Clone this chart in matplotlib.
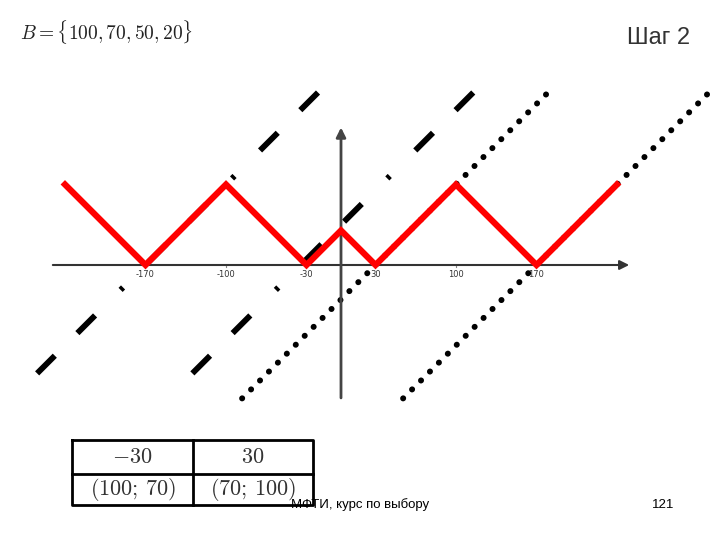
import matplotlib
matplotlib.use("Agg")
import matplotlib.pyplot as plt

plt.rcParams['lines.scale_dashes'] = False
plt.rcParams['mathtext.fontset'] = 'cm'

red_x = [-240, -170, -100, -30, 0, 30, 100, 170, 240]
red_y = [70, 0, 70, 0, 30, 0, 70, 0, 70]
tick_vals = [-170, -100, -30, 30, 100, 170]
tick_labels = ['-170', '-100', '-30', '30', '100', '170']
dashdot_offsets = [170, 35]
dotted_offsets = [-30, -170]
line_ymin, line_ymax = -116, 150
table_cells = [['$-30$', '$30$'], ['$(100;\\,70)$', '$(70;\\,100)$']]

W, H = 720, 540
fig = plt.figure(figsize=(7.2, 5.4), dpi=100)
s = 1.15
ox, oy = 341, 265
ax = fig.add_axes([0, 0, 1, 1])
ax.set_xlim(-ox / s, (W - ox) / s)
ax.set_ylim(-(H - oy) / s, oy / s)
ax.axis('off')

ax.annotate('', xy=(253, 0), xytext=(-253, 0),
            arrowprops=dict(arrowstyle='-|>', color='#333333', lw=1.5, mutation_scale=14))
ax.annotate('', xy=(0, 122), xytext=(0, -118),
            arrowprops=dict(arrowstyle='-|>', color='#444444', lw=2, mutation_scale=14))
for v, lab in zip(tick_vals, tick_labels):
    ax.plot([v, v], [0, -2], color='#888888', lw=0.8)
    ax.text(v, -4, lab, ha='center', va='top', fontsize=6, color='#333333')

for c in dashdot_offsets:
    ax.plot([line_ymax - c, line_ymin - c], [line_ymax, line_ymin], color='black', lw=4.2,
            solid_capstyle='butt', dash_capstyle='butt',
            linestyle=(0, (18, 23, 18, 26, 2.5, 26)))
for c in dotted_offsets:
    ax.plot([line_ymin - c, line_ymax - c], [line_ymin, line_ymax], color='black', lw=4.3,
            dash_capstyle='round', linestyle=(0, (0.1, 9.0)))

ax.plot(red_x, red_y, color='#ff0000', lw=4.5, solid_joinstyle='miter', zorder=5)

fig.text(20 / W, 1 - 32 / H, '$B = \\{100, 70, 50, 20\\}$', fontsize=14, va='center', color='#222222')
fig.text(690 / W, 1 - 38 / H, 'Шаг 2', fontsize=17, ha='right', va='center', color='#333333',
         family='Liberation Sans')
fig.text(360 / W, 1 - 505 / H, 'МФТИ, курс по выбору', fontsize=9.5, ha='center', va='center',
         family='Liberation Sans')
fig.text(663 / W, 1 - 505 / H, '121', fontsize=9.5, ha='center', va='center', family='Liberation Sans')

x0, x1, xm = 72, 313, 193
y0, y1, ym = 440, 505, 474
def fl(xs, ys):
    fig.add_artist(plt.Line2D([x / W for x in xs], [1 - y / H for y in ys], color='black', lw=2))
fl([x0, x1, x1, x0, x0], [y0, y0, y1, y1, y0])
fl([xm, xm], [y0, y1])
fl([x0, x1], [ym, ym])
cx = [(x0 + xm) / 2, (xm + x1) / 2]
cy = [(y0 + ym) / 2, (ym + y1) / 2]
for i in range(2):
    for j in range(2):
        fig.text(cx[j] / W, 1 - cy[i] / H, table_cells[i][j], fontsize=16,
                 ha='center', va='center', color='#333333')

fig.savefig('out.png', dpi=100)
